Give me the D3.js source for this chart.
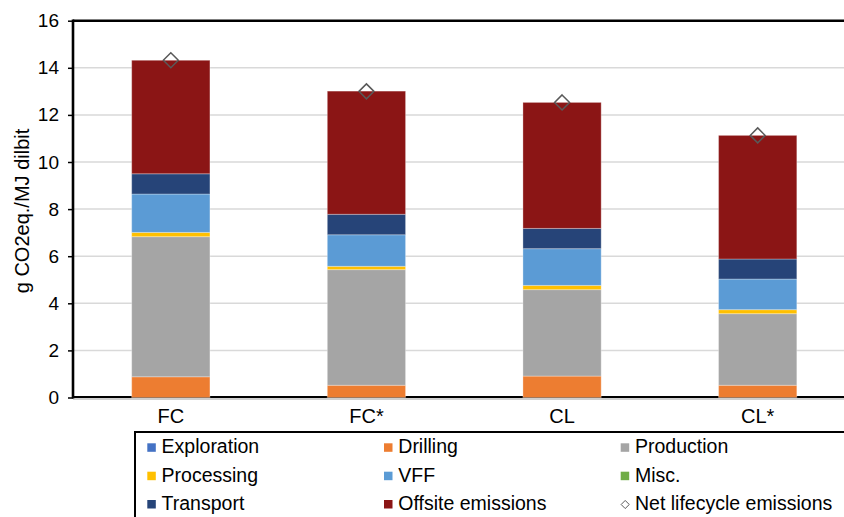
<!DOCTYPE html>
<html>
<head>
<meta charset="utf-8">
<script src="https://cdn.jsdelivr.net/npm/d3@7"></script>
<style>
  html, body { margin: 0; padding: 0; background: #ffffff; }
  svg { display: block; font-family: "Liberation Sans", Arial, sans-serif; }
</style>
</head>
<body>
<div id="chart"></div>
<script>
// Categories and stacked components (g CO2eq./MJ dilbit)
const categories = ['FC', 'FC*', 'CL', 'CL*'];
const seriesNames = ['Exploration', 'Drilling', 'Production', 'Processing', 'VFF', 'Misc.', 'Transport', 'Offsite emissions'];
const exploration = [0, 0, 0, 0];
const drilling = [0.88, 0.52, 0.91, 0.52];
const production = [5.95, 4.91, 3.67, 3.04];
const processing = [0.18, 0.14, 0.18, 0.17];
const vff = [1.63, 1.34, 1.56, 1.30];
const misc = [0, 0, 0, 0];
const transport = [0.86, 0.87, 0.86, 0.85];
const offsite = [4.82, 5.23, 5.35, 5.25];
const netLifecycle = [14.32, 13.00, 12.53, 11.13];
const yTicks = [0, 2, 4, 6, 8, 10, 12, 14, 16];

const seriesColors = ['#4472C4', '#ED7D31', '#A5A5A5', '#FFC000', '#5B9BD5', '#70AD47', '#264478', '#8B1515'];
const seriesValues = [exploration, drilling, production, processing, vff, misc, transport, offsite];

const width = 844;
const height = 517;
const plot = { left: 73, top: 20.7, right: 855.5, bottom: 397.5 };

const rows = categories.map((c, i) => {
  const row = { category: c };
  seriesNames.forEach((name, k) => { row[name] = seriesValues[k][i]; });
  return row;
});

const stacked = d3.stack().keys(seriesNames)(rows);

const svg = d3.select('#chart')
  .append('svg')
  .attr('width', width)
  .attr('height', height);

const x = d3.scaleBand()
  .domain(categories)
  .range([plot.left, plot.right])
  .paddingInner(0.6)
  .paddingOuter(0.3);

const y = d3.scaleLinear()
  .domain([0, 16])
  .range([plot.bottom, plot.top]);

// gridlines
svg.append('g')
  .selectAll('line')
  .data(yTicks.filter(t => t > 0 && t < 16))
  .join('line')
  .attr('x1', plot.left)
  .attr('x2', width)
  .attr('y1', d => y(d))
  .attr('y2', d => y(d))
  .attr('stroke', '#d9d9d9')
  .attr('stroke-width', 1.5);

// bottom axis line
svg.append('line')
  .attr('x1', plot.left)
  .attr('x2', width)
  .attr('y1', y(0) + 1.5)
  .attr('y2', y(0) + 1.5)
  .attr('stroke', '#d0d0d0')
  .attr('stroke-width', 2);
svg.append('line')
  .attr('x1', plot.left)
  .attr('x2', width)
  .attr('y1', y(0) - 0.5)
  .attr('y2', y(0) - 0.5)
  .attr('stroke', '#000')
  .attr('stroke-width', 1.8);

// stacked bars
svg.append('g')
  .selectAll('g')
  .data(stacked)
  .join('g')
  .attr('fill', (d, i) => seriesColors[i])
  .selectAll('rect')
  .data(d => d)
  .join('rect')
  .attr('x', d => x(d.data.category))
  .attr('width', x.bandwidth())
  .attr('y', d => y(d[1]))
  .attr('height', d => Math.max(0, y(d[0]) - y(d[1])))
  .attr('stroke', '#ffffff')
  .attr('stroke-opacity', d => (d[1] - d[0]) > 0 ? 0.3 : 0)
  .attr('stroke-width', 1);

// net lifecycle markers (open diamonds)
const diamond = d3.symbol().type(d3.symbolDiamond2).size(143);
svg.append('g')
  .selectAll('path')
  .data(netLifecycle)
  .join('path')
  .attr('d', diamond)
  .attr('transform', (d, i) => `translate(${x(categories[i]) + x.bandwidth() / 2},${y(d)})`)
  .attr('fill', 'none')
  .attr('stroke', '#595959')
  .attr('stroke-width', 1.5);

// y axis
const yAxis = svg.append('g')
  .attr('transform', `translate(${plot.left},0)`)
  .call(d3.axisLeft(y).tickValues(yTicks).tickSize(5).tickPadding(9));
yAxis.select('.domain').remove();
yAxis.selectAll('.tick line').attr('stroke', '#000').attr('stroke-width', 1.5);
yAxis.selectAll('.tick text')
  .attr('fill', '#000')
  .attr('font-size', '19px')
  .attr('font-family', '"Liberation Sans", Arial, sans-serif');

// left and top frame
svg.append('line')
  .attr('x1', plot.left).attr('x2', plot.left)
  .attr('y1', plot.top - 1.2).attr('y2', plot.bottom + 1)
  .attr('stroke', '#000').attr('stroke-width', 2.6);
svg.append('line')
  .attr('x1', plot.left).attr('x2', width)
  .attr('y1', plot.top).attr('y2', plot.top)
  .attr('stroke', '#000').attr('stroke-width', 2.6);

// x labels
const xAxis = svg.append('g')
  .attr('transform', `translate(0,${plot.bottom})`)
  .call(d3.axisBottom(x).tickSize(0).tickPadding(11));
xAxis.select('.domain').remove();
xAxis.selectAll('.tick text')
  .attr('fill', '#000')
  .attr('font-size', '20px')
  .attr('font-family', '"Liberation Sans", Arial, sans-serif');

// y title
svg.append('text')
  .attr('transform', 'translate(29,211) rotate(-90)')
  .attr('text-anchor', 'middle')
  .attr('font-size', '20px')
  .attr('fill', '#000')
  .text('g CO2eq./MJ dilbit');

// legend
const legend = svg.append('g');
legend.append('rect')
  .attr('x', 135)
  .attr('y', 432)
  .attr('width', 800)
  .attr('height', 120)
  .attr('fill', '#fff')
  .attr('stroke', '#000')
  .attr('stroke-width', 2);

const legendItems = seriesNames.map((name, i) => ({ name, color: seriesColors[i], marker: false }))
  .concat([{ name: 'Net lifecycle emissions', color: null, marker: true }]);
const colX = [147.3, 384, 620.7];
const rowY = [453.3, 481.7, 510];

const item = legend.selectAll('g.item')
  .data(legendItems)
  .join('g')
  .attr('class', 'item')
  .attr('transform', (d, i) => `translate(${colX[i % 3]},${rowY[Math.floor(i / 3)]})`);

item.filter(d => !d.marker)
  .append('rect')
  .attr('x', 0)
  .attr('y', -10)
  .attr('width', 8.5)
  .attr('height', 8.5)
  .attr('fill', d => d.color);

item.filter(d => d.marker)
  .append('path')
  .attr('d', d3.symbol().type(d3.symbolDiamond2).size(42))
  .attr('transform', 'translate(4.5,-5.5)')
  .attr('fill', 'none')
  .attr('stroke', '#595959')
  .attr('stroke-width', 1);

item.append('text')
  .attr('x', 14.3)
  .attr('y', 0)
  .attr('font-size', '19.5px')
  .attr('fill', '#000')
  .text(d => d.name);
</script>
</body>
</html>
